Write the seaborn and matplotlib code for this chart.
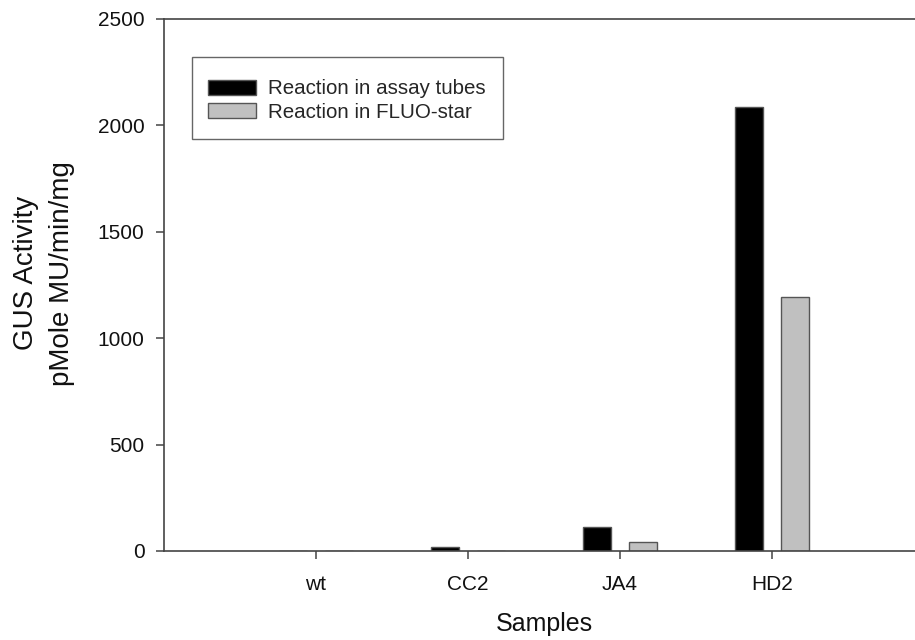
import matplotlib
matplotlib.use("Agg")
import matplotlib.pyplot as plt
from matplotlib.patches import Rectangle
import pandas as pd
import seaborn as sns

# GUS activity per sample, two reaction set-ups
samples = ["wt", "CC2", "JA4", "HD2"]
assay_tubes = [0, 20, 115, 2088]
fluo_star = [0, 0, 40, 1193]
series_names = ["Reaction in assay tubes", "Reaction in FLUO-star"]
y_ticks = [0, 500, 1000, 1500, 2000, 2500]

df = pd.DataFrame({
    "Samples": samples * 2,
    "Activity": assay_tubes + fluo_star,
    "Reaction": [series_names[0]] * len(samples) + [series_names[1]] * len(samples),
})

sns.set_style("ticks")
plt.rcParams["font.family"] = ["Liberation Sans", "DejaVu Sans"]

W, H = 915, 640
fig = plt.figure(figsize=(W / 100, H / 100), dpi=100)
ax = fig.add_axes([164 / W, 1 - 551 / H, 760 / W, 532 / H])

sns.barplot(
    data=df, x="Samples", y="Activity", hue="Reaction",
    palette=["#000000", "#c0c0c0"], width=0.6, gap=0.39,
    edgecolor="#555555", linewidth=1.0, ax=ax,
)

ax.set_xlim(-1, 4)
ax.set_ylim(0, 2500)
ax.set_yticks(y_ticks)

edge = "#444444"
for s in ax.spines.values():
    s.set_color(edge)
    s.set_linewidth(1.2)
ax.tick_params(direction="out", length=6, width=1.1, color=edge,
               labelsize=15, labelcolor="#111111")
ax.tick_params(axis="y", pad=8)
ax.tick_params(axis="x", pad=11)

ax.set_xlabel("Samples", fontsize=18, color="#111111")
ax.xaxis.set_label_coords(0.5, -0.115)
ax.set_ylabel("GUS Activity\npMole MU/min/mg", fontsize=20, color="#111111",
              linespacing=1.5)
ax.yaxis.set_label_coords(-0.117, 0.522)

# legend entries without a frame; the roomier box is drawn separately
sns.move_legend(
    ax, "upper left", bbox_to_anchor=(192 / W, 1 - 63 / H),
    bbox_transform=fig.transFigure, title=None, frameon=False,
    fontsize=14.8, borderpad=0.8,
    handlelength=2.3, handleheight=0.75, handletextpad=0.6,
    labelspacing=0.2, borderaxespad=0,
)
fig.patches.append(Rectangle(
    (192 / W, 1 - 139 / H), (503 - 192) / W, (139 - 57) / H,
    transform=fig.transFigure, fill=False, edgecolor="#666666",
    linewidth=1.0, zorder=5,
))

fig.savefig("out.png", dpi=100)
